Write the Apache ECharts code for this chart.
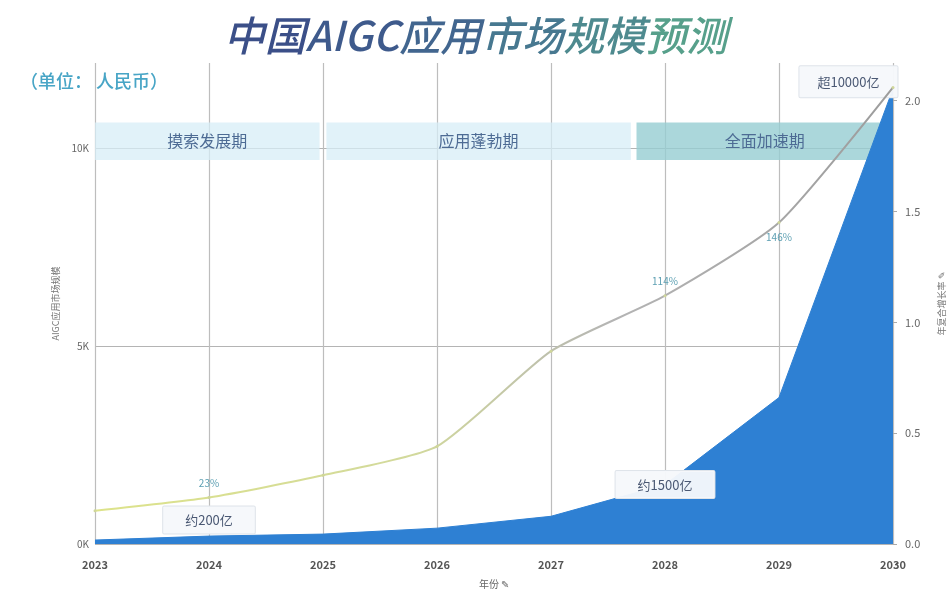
<!DOCTYPE html>
<html>
<head>
<meta charset="utf-8">
<script src="https://cdn.jsdelivr.net/npm/echarts@6/dist/echarts.min.js"></script>
<style>html,body{margin:0;padding:0;background:#fff;}#c{width:951px;height:590px;}</style>
</head>
<body>
<div id="c"></div>
<script>
// ---- data ----
var years = [2023, 2024, 2025, 2026, 2027, 2028, 2029, 2030];
var marketSize = [100, 200, 250, 400, 700, 1500, 3700, 11500];   // 亿元
var growthRate = [0.15, 0.21, 0.31, 0.44, 0.87, 1.12, 1.45, 2.06];
var rateLabels = ['', '23%', '', '', '', '114%', '146%', ''];
var sizeLabels = ['', '约200亿', '', '', '', '约1500亿', '', '超10000亿'];
var rateTicks = [0, 0.5, 1.0, 1.5, 2.0];
var phaseNames = ['摸索发展期', '应用蓬勃期', '全面加速期'];
var phaseStart = [2023, 2025.03, 2027.75];
var phaseEnd = [2024.97, 2027.7, 2030];
var titleParts = ['中国', 'AIGC', '应用', '市场', '规模', '预测'];

var FONT = '"Noto Sans CJK SC", "Noto Sans", sans-serif';
var chart = echarts.init(document.getElementById('c'));

var titleColors = ['#3b4f88', '#3e5a8c', '#42668f', '#477890', '#4e8a8f', '#57a08b'];
var titleRich = {};
titleParts.forEach(function (p, i) {
  titleRich['t' + i] = { color: titleColors[i], fontSize: 41, fontWeight: 500, fontStyle: 'italic', fontFamily: FONT };
});
var titleText = titleParts.map(function (p, i) { return '{t' + i + '|' + p + '}'; }).join('');

var rateData = years.map(function (y, i) {
  var item = { value: [y, growthRate[i]] };
  if (rateLabels[i]) {
    item.label = {
      show: true, formatter: rateLabels[i],
      position: i === 6 ? 'bottom' : 'top', distance: 8,
      color: '#5c9fb2', fontSize: 10, fontFamily: FONT
    };
  }
  return item;
});

var boxStyle = {
  show: true, color: '#4a5873', fontSize: 13, fontFamily: FONT,
  backgroundColor: 'rgba(246,248,251,0.96)', borderColor: '#dfe4ea', borderWidth: 1,
  padding: [7, 22], borderRadius: 1
};
var sizeData = years.map(function (y, i) {
  var item = { value: [y, marketSize[i]] };
  if (sizeLabels[i]) {
    var l = Object.assign({ formatter: sizeLabels[i] }, boxStyle);
    if (i === 1) { l.position = 'top'; l.distance = 2; }
    else if (i === 5) { l.position = 'top'; l.distance = 0; l.offset = [0, 14]; }
    else { l.position = 'left'; l.distance = 0; l.offset = [5, -7]; l.padding = [9, 18]; }
    item.label = l;
  }
  return item;
});

var bandColors = ['rgba(215,238,247,0.75)', 'rgba(215,238,247,0.75)', 'rgba(150,205,210,0.8)'];
var bands = phaseNames.map(function (n, i) {
  return [
    { name: n, xAxis: phaseStart[i], yAxis: 9700, itemStyle: { color: bandColors[i] } },
    { xAxis: phaseEnd[i], yAxis: 10650 }
  ];
});

chart.setOption({
  backgroundColor: '#ffffff',
  title: {
    text: titleText,
    left: 'center', top: 10,
    textStyle: { rich: titleRich }
  },
  graphic: [{
    type: 'text', left: 20, top: 72,
    style: { text: '（单位： 人民币）', fill: '#48a5c6', fontSize: 18, fontWeight: 500, fontFamily: FONT }
  }],
  grid: { left: 95, right: 58, top: 63, bottom: 46, outerBoundsMode: 'none', containLabel: false },
  xAxis: {
    type: 'value', min: 2023, max: 2030, interval: 1,
    axisLine: { show: false }, axisTick: { show: false },
    axisLabel: { formatter: function (v) { return String(v); }, color: '#555', fontSize: 11, fontWeight: 'bold', margin: 15, fontFamily: FONT },
    splitLine: { show: true, lineStyle: { color: '#bdbdbd', width: 1.2 } },
    name: '年份 ✎', nameLocation: 'middle', nameGap: 35,
    nameTextStyle: { color: '#666', fontSize: 10, fontFamily: FONT }
  },
  yAxis: [{
    type: 'value', min: 0, max: 12150, interval: 5000,
    axisLine: { show: false }, axisTick: { show: false },
    axisLabel: { formatter: function (v) { return v % 5000 === 0 ? (v / 1000) + 'K' : ''; }, color: '#666', fontSize: 10, margin: 6, fontFamily: FONT },
    splitLine: { show: true, showMaxLine: false, lineStyle: { color: '#b4b4b4', width: 1 } },
    name: 'AIGC应用市场规模', nameLocation: 'middle', nameGap: 24,
    nameTextStyle: { color: '#777', fontSize: 9, fontFamily: FONT }
  }, {
    type: 'value', min: 0, max: 2.17, interval: 0.5,
    axisLine: { show: false },
    axisTick: { show: true, length: 4, customValues: rateTicks, lineStyle: { color: '#aaa' } },
    axisLabel: { customValues: rateTicks, formatter: function (v) { return v.toFixed(1); }, color: '#666', fontSize: 11, margin: 12, fontFamily: FONT },
    splitLine: { show: false },
    name: '年复合增长率 ✎', nameLocation: 'middle', nameGap: 44, nameRotate: 90,
    nameTextStyle: { color: '#777', fontSize: 9, fontFamily: FONT }
  }],
  series: [{
    type: 'line', yAxisIndex: 0, data: sizeData,
    symbol: 'circle', symbolSize: 1, showSymbol: true,
    itemStyle: { color: 'rgba(46,128,211,0)' },
    lineStyle: { color: '#2e80d3', width: 1 },
    areaStyle: { color: '#2e80d3', opacity: 1 },
    z: 2
  }, {
    type: 'line', yAxisIndex: 1, data: rateData, smooth: 0.2,
    symbol: 'circle', symbolSize: 3, showSymbol: true,
    itemStyle: { color: '#cfd69a' },
    lineStyle: {
      width: 2,
      color: new echarts.graphic.LinearGradient(0, 0, 1, 0, [
        { offset: 0, color: '#dde38a' }, { offset: 0.4, color: '#d2d99c' },
        { offset: 0.65, color: '#b4b4b4' }, { offset: 1, color: '#9c9c9c' }
      ])
    },
    z: 3
  }, {
    type: 'line', yAxisIndex: 0, data: [], z: 4, silent: true,
    markArea: {
      silent: true,
      label: { show: true, position: 'inside', color: '#4d6b94', fontSize: 16, fontFamily: FONT },
      data: bands
    }
  }]
});
</script>
</body>
</html>
